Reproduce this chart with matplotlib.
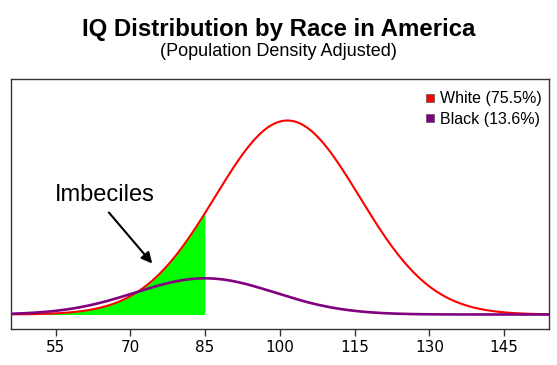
import numpy as np
import matplotlib.pyplot as plt
from matplotlib.lines import Line2D

# Groups, population shares (%) and normal-curve parameters
groups = ['White', 'Black']
shares = [75.5, 13.6]
means = [101.5, 85]
sds = [14.5, 14]
colors = ['#ff0000', '#800080']

xticks = [55, 70, 85, 100, 115, 130, 145]
cutoff = 85

def density(x, mu, sd, share):
    return share / 100 * np.exp(-0.5 * ((x - mu) / sd) ** 2) / (sd * np.sqrt(2 * np.pi))

x = np.linspace(46, 154, 600)
curves = [density(x, m, s, p) for m, s, p in zip(means, sds, shares)]

fig = plt.figure(figsize=(5.57, 3.65), dpi=100)
ax = fig.add_axes([0.0192, 0.0986, 0.9664, 0.685])

# shaded region under the white curve up to the cutoff
mask = x <= cutoff
ax.fill_between(x[mask], 0, curves[0][mask], color='#00ff00', lw=0, zorder=1)

ax.plot(x, curves[0], color=colors[0], lw=1.5, zorder=2)
ax.plot(x, curves[1], color=colors[1], lw=1.9, zorder=3)

peak = curves[0].max()
ax.set_xlim(46, 154)
ax.set_ylim(-peak * 14.5 / 194, peak * 235.5 / 194)

ax.set_xticks(xticks)
ax.set_yticks([])
ax.tick_params(axis='x', length=5, width=1, color='#333333', labelsize=11, pad=3)
for s in ax.spines.values():
    s.set_color('#333333')
    s.set_linewidth(1)

ax.text(64.9, peak * 119.5 / 194, 'Imbeciles', ha='center', va='center',
        fontsize=17, family='Liberation Sans')
ax.annotate('', xy=(74.4, peak * 51 / 194), xytext=(65.7, peak * 102 / 194),
            arrowprops=dict(arrowstyle='-|>', color='black', lw=1.5,
                            mutation_scale=16, shrinkA=0, shrinkB=0))

# square markers for the legend
handles = [Line2D([], [], ls='none', marker='s', ms=6, mfc=c, mec='#555555', mew=0.5)
           for c in colors]
ax.legend(handles, [f'{g} ({p}%)' for g, p in zip(groups, shares)], loc='upper right',
          bbox_to_anchor=(1.0056, 0.992),
          frameon=False, handlelength=0.6, handletextpad=0.3, labelspacing=0.35,
          borderaxespad=0.25, prop={'family': 'Liberation Sans', 'size': 11.5})

fig.text(0.5, 0.92, 'IQ Distribution by Race in America', ha='center', va='center',
         fontsize=17.3, fontweight='bold', family='Liberation Sans')
fig.text(0.5, 0.858, '(Population Density Adjusted)', ha='center', va='center',
         fontsize=13, family='Liberation Sans')

fig.savefig('out.png', dpi=100)
